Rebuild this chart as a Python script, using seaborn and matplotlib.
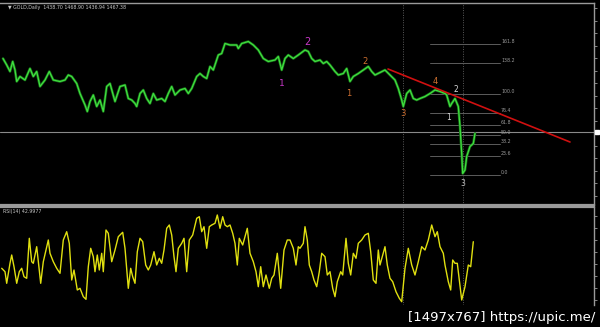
import matplotlib
matplotlib.use("Agg")
import matplotlib.pyplot as plt
import seaborn as sns
import numpy as np

# ---------------- data ----------------
price_bars = [3, 6.7, 10, 12.7, 15, 16.7, 20, 25, 30, 33.3, 36.7, 40, 45, 49.3, 53.3, 60, 65, 68.3,
              71.7, 76.7, 80, 85, 87.3, 90, 93.3, 96.7, 100, 103.3, 106.7, 110, 115, 120, 125, 128.3,
              131.7, 135, 136.7, 140, 143.3, 146.7, 150, 153.3, 156.7, 161.7, 165, 168.3, 171.7, 175,
              180, 185, 188.3, 191.7, 196.7, 200, 203.3, 206.7, 210, 213.3, 218.3, 221.7, 225, 230,
              236.7, 238.3, 241.7, 248.3, 253.3, 258.3, 263.3, 268.3, 275, 278.3, 281.7, 285, 288.3,
              293.3, 298.3, 305, 308.3, 311.7, 315, 320, 323.3, 326.7, 330, 335, 338.3, 343.3, 346.7,
              350, 353.3, 358.3, 363.3, 368.3, 371.7, 375, 380, 385, 390, 395, 398.3, 401.7, 403.3,
              406.7, 410, 413.3, 416.7, 420, 425, 430, 435, 440, 445, 446.7, 450, 451.7, 455, 458.3,
              460, 461.7, 462.7, 465, 466.7, 470, 473.3, 475]
price_close = [1614, 1601, 1588, 1608, 1591, 1568, 1578, 1571, 1594, 1578, 1588, 1558, 1571, 1588, 1571,
               1568, 1571, 1581, 1578, 1564, 1544, 1521, 1508, 1528, 1541, 1518, 1531, 1508, 1558, 1564,
               1528, 1558, 1561, 1534, 1531, 1524, 1518, 1544, 1551, 1534, 1524, 1544, 1531, 1534, 1528,
               1544, 1558, 1541, 1551, 1554, 1544, 1554, 1578, 1584, 1578, 1574, 1598, 1591, 1621, 1624,
               1644, 1641, 1641, 1634, 1644, 1648, 1641, 1631, 1614, 1608, 1611, 1618, 1591, 1614, 1621,
               1614, 1621, 1631, 1628, 1614, 1608, 1611, 1604, 1608, 1601, 1588, 1581, 1584, 1594, 1568,
               1578, 1584, 1591, 1598, 1588, 1581, 1586, 1591, 1581, 1571, 1554, 1531, 1518, 1544, 1551,
               1534, 1531, 1534, 1538, 1544, 1551, 1548, 1544, 1541, 1518, 1524, 1534, 1518, 1478, 1424,
               1384, 1391, 1418, 1438, 1444, 1464]

rsi_bars = [1.7, 5, 6.7, 10, 11.7, 14, 16.7, 19.3, 21.7, 24, 26.7, 29.3, 31.7, 33.3, 36.7, 38.3, 40.7,
            43.3, 46, 48.3, 50, 53.3, 56.7, 60, 63.3, 66.7, 69.3, 71.7, 74, 77.3, 80, 83.3, 86, 88.3,
            90.7, 93.3, 95, 97.3, 99.3, 101.7, 103.3, 106, 108.3, 111.7, 115, 118.3, 122.7, 125, 128.3,
            130.7, 132.7, 135, 137.3, 140, 142.7, 145.7, 148.3, 150.7, 154, 156.7, 159.3, 161.7, 164,
            166.7, 169.3, 171.7, 174, 176, 178.3, 181.7, 184, 186.7, 189.3, 192.7, 196.7, 199.3, 201.7,
            204, 206.7, 209.3, 211.7, 215, 217.3, 220, 222.7, 225, 227.3, 230, 232.7, 235, 237.3, 239.3,
            242.7, 247.3, 250, 253.3, 256, 258.3, 260.7, 263.3, 266, 269.3, 271.7, 274, 277.3, 280.7,
            284, 287.3, 290, 293.3, 296, 298.3, 300, 303.3, 305, 307.3, 309.3, 311.7, 314, 316.7, 319.3,
            321.7, 325, 327.3, 330, 332.7, 335, 337.3, 340.7, 342.7, 346, 348.3, 350.7, 353.3, 356,
            358.3, 361.7, 365, 368.3, 370.7, 373.3, 376, 378.3, 380, 382.7, 385, 387.3, 390, 392.7, 396,
            399.3, 401.7, 405, 408.3, 411.7, 415, 418.3, 421.7, 425, 428.3, 431.7, 435, 437.3, 440,
            443.3, 445, 448.3, 450.7, 452.7, 455, 457.3, 459.3, 461.7, 465, 468.3, 470.7, 473.3]
rsi_values = [36.7, 33.3, 21.7, 41.7, 50, 38.3, 21.7, 33.3, 36.7, 28.3, 26.7, 66.7, 43.3, 41.7, 58.3, 43.3,
              21.7, 43.3, 55, 65, 51.7, 43.3, 36.7, 31.7, 65, 73.3, 61.7, 25, 35, 15, 16.7, 8.3, 5.7, 38.3,
              56.7, 48.3, 33.3, 50, 35, 51.7, 33.3, 75, 71.7, 43.3, 55, 68.3, 72.7, 56.7, 16.7, 36.7, 28.3,
              21.7, 53.3, 66.7, 63.3, 40, 35, 40, 53.3, 40, 46.7, 41.7, 55, 76.7, 80, 70, 48.3, 33.3, 56.7,
              61.7, 66.7, 33.3, 65, 70, 86.7, 88.3, 73.3, 78.3, 56.7, 78.3, 80, 81.7, 90, 76.7, 88.3, 80,
              78.3, 80, 71.7, 61.7, 40, 66.7, 60, 76.7, 51.7, 43.3, 33.3, 18.3, 38.3, 18.3, 30, 16.7, 26.7,
              30, 51.7, 16.7, 55, 65, 65, 56.7, 40, 58.3, 56.7, 61.7, 78.3, 65, 40, 33.3, 25, 18.3, 33.3,
              51.7, 48.3, 30, 33.3, 16.7, 8.3, 23.3, 33.3, 30, 66.7, 41.7, 30, 51.7, 46.7, 61.7, 65, 70,
              71.7, 53.3, 25, 21.7, 55, 40, 50, 58.3, 40, 26.7, 23.3, 13.3, 6.7, 3.3, 36.7, 56.7, 40, 30,
              43.3, 58.3, 55, 65, 80, 68.3, 73.3, 58.3, 51.7, 40, 23.3, 15, 45, 41.7, 41.7, 25, 5, 18.3,
              40, 38.3, 63.3]

fib_ratios = [0.0, 23.6, 38.2, 50.0, 61.8, 76.4, 100.0, 138.2, 161.8]
fib_low, fib_high = 1381, 1543
trend_bars = [388, 570]
trend_prices = [1593, 1447]
last_price = 1467.38
cycle_marks = [403, 463]

wave_labels = ["2", "1", "2", "1", "3", "4", "2", "1", "3"]
wave_bars = [307, 282, 365, 349, 403, 435, 456, 449, 463]
wave_prices = [1647, 1565, 1609, 1543, 1505, 1567, 1553, 1495, 1363]
wave_colors = ["#c838c8", "#c838c8", "#d07030", "#d07030", "#d07030", "#d07030",
               "#d8d8d8", "#d8d8d8", "#c0c0c0"]
wave_sizes = [7, 6.5, 6, 6, 6, 6, 5.5, 5.5, 5.5]

header = "\u25bc GOLD,Daily  1438.70 1468.90 1436.94 1467.38"
rsi_title = "RSI(14) 42.9977"
watermark = "[1497x767] https://upic.me/"

# ---------------- style ----------------
sns.set_theme(style="dark", rc={"axes.facecolor": "black", "figure.facecolor": "black",
                                "axes.grid": False})
plt.rcParams["font.family"] = ["DejaVu Sans"]

W, H = 600, 327
fig = plt.figure(figsize=(6, 3.27), dpi=100, facecolor="black")
ax1 = fig.add_axes([0, 1 - 205 / H, 594 / W, (205 - 3) / H])
ax2 = fig.add_axes([0, 1 - 305 / H, 594 / W, (305 - 207) / H])

for ax in (ax1, ax2):
    ax.set_facecolor("black")
    ax.set_xlim(0, 594)
    for s in ax.spines.values():
        s.set_color("#9a9a9a")
        s.set_linewidth(1.0)
    ax.spines["left"].set_visible(False)
    ax.set_xticks([])
    ax.yaxis.tick_right()
    ax.tick_params(axis="y", colors="#9a9a9a", length=2, width=0.6, labelright=False,
                   direction="out", pad=0)

ax1.set_ylim(1321, 1725)
ax1.set_yticks(np.arange(1340, 1725, 25))
ax1.spines["bottom"].set_linewidth(1.6)
ax2.set_ylim(0, 98)
ax2.set_yticks(np.arange(5, 98, 12))
ax2.spines["top"].set_linewidth(1.6)
ax2.spines["bottom"].set_visible(False)

# dotted vertical markers through both panels
for ax in (ax1, ax2):
    for xb in cycle_marks:
        ax.axvline(xb, color="#5a5a5a", lw=0.7, ls=(0, (1, 1.5)), zorder=1)

# current price line
ax1.axhline(last_price, color="#8a8a8a", lw=0.8, zorder=1)
ax1.plot([597], [last_price], marker="s", ms=3, color="white", clip_on=False, zorder=5)

# fibonacci levels
for r in fib_ratios:
    lvl = fib_low + (fib_high - fib_low) * r / 100.0
    ax1.plot([430, 500], [lvl, lvl], color="#5c5c5c", lw=0.7, zorder=1)
    ax1.text(501, lvl, f"{r:.1f}", color="#999999", fontsize=3.4, va="bottom", ha="left")

# price
sns.lineplot(x=price_bars, y=price_close, ax=ax1, color="#187018", lw=1.9, estimator=None, zorder=2)
sns.lineplot(x=price_bars, y=price_close, ax=ax1, color="#40e040", lw=0.9, estimator=None, zorder=3)

# trend line
ax1.plot(trend_bars, trend_prices, color="#d01010", lw=1.2, zorder=4)

# wave labels
for t, xb, p, c, fs in zip(wave_labels, wave_bars, wave_prices, wave_colors, wave_sizes):
    ax1.text(xb, p, t, color=c, fontsize=fs, ha="center", va="center", zorder=6)

ax1.set_xlabel("")
ax1.set_ylabel("")

# RSI
sns.lineplot(x=rsi_bars, y=rsi_values, ax=ax2, color="#e0e010", lw=1.0, estimator=None)
ax2.set_xlabel("")
ax2.set_ylabel("")

fig.text(8 / W, 1 - 7 / H, header, color="#c8c8c8", fontsize=3.4, va="center", ha="left")
fig.text(3 / W, 1 - 211 / H, rsi_title, color="#c8c8c8", fontsize=3.4, va="center", ha="left")
fig.text(595 / W, 1 - 317 / H, watermark, color="white", fontsize=9.5, va="center", ha="right")

fig.savefig("out.png", dpi=100, facecolor="black")
